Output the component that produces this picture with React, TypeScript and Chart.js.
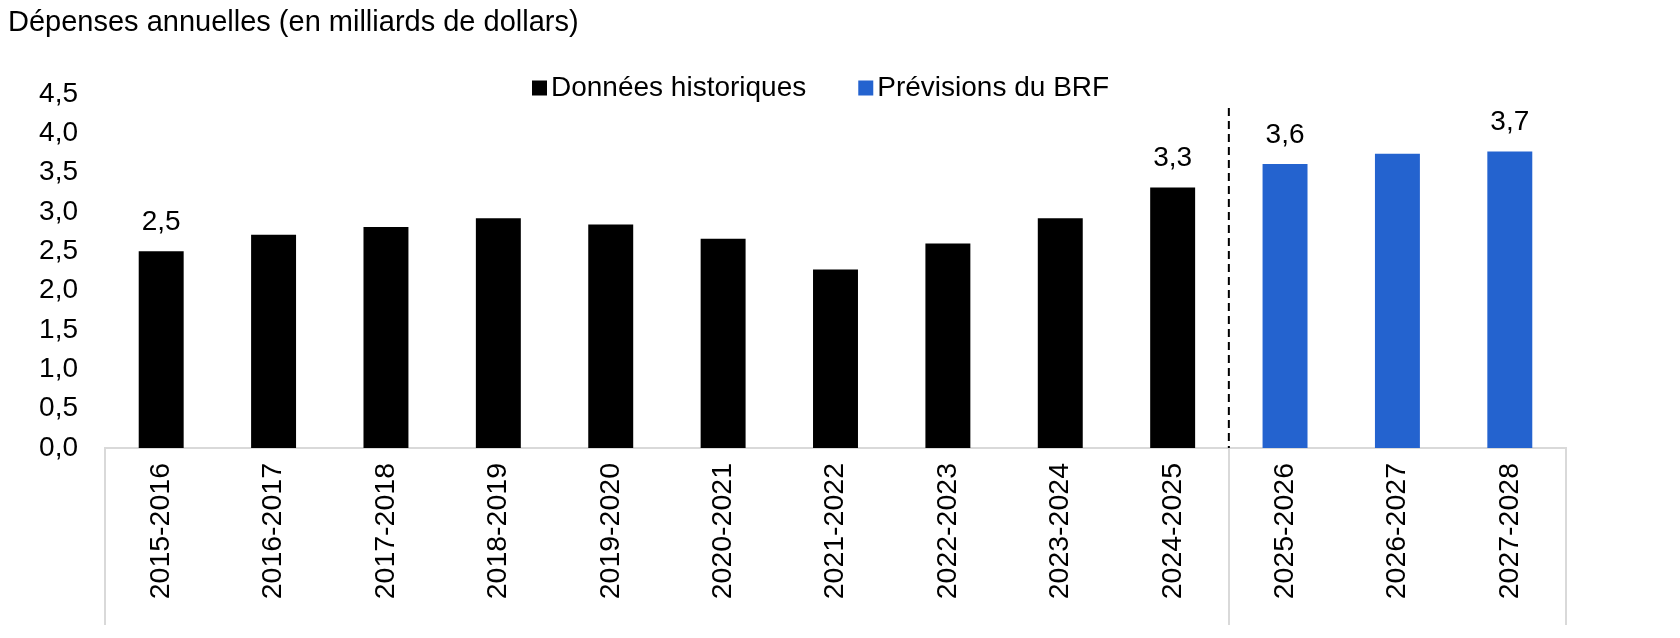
import { useEffect, useRef } from 'react';
import { Chart, registerables } from 'chart.js';

Chart.register(...registerables);

// ---- data ----
const titleText = 'Dépenses annuelles (en milliards de dollars)';
const categories = [
  '2015-2016', '2016-2017', '2017-2018', '2018-2019', '2019-2020', '2020-2021', '2021-2022',
  '2022-2023', '2023-2024', '2024-2025', '2025-2026', '2026-2027', '2027-2028',
];
const seriesNames = ['Données historiques', 'Prévisions du BRF'];
const seriesColors = ['#000000', '#2463cf'];
const historicalValues = [2.5, 2.71, 2.81, 2.92, 2.84, 2.66, 2.27, 2.6, 2.92, 3.31, null, null, null];
const forecastValues = [null, null, null, null, null, null, null, null, null, null, 3.61, 3.74, 3.77];
// value labels as printed on the chart (empty = no label)
const valueLabels = ['2,5', '', '', '', '', '', '', '', '', '3,3', '3,6', '', '3,7'];
const yMin = 0;
const yMax = 4.5;
const yStep = 0.5;

const FONT = "'Liberation Sans', Arial, Helvetica, sans-serif";
const fmt = (v: number) => v.toFixed(1).replace('.', ',');
const splitIndex = forecastValues.findIndex((v) => v !== null);

const annotationsPlugin = {
  id: 'annotations',
  afterDatasetsDraw(chart: any) {
    const { ctx, chartArea, scales } = chart;
    const x = scales.x;
    ctx.save();
    // dashed divider between history and forecast
    const xd = (x.getPixelForValue(splitIndex - 1) + x.getPixelForValue(splitIndex)) / 2;
    ctx.strokeStyle = '#000';
    ctx.lineWidth = 2;
    ctx.setLineDash([8, 5]);
    ctx.beginPath();
    ctx.moveTo(xd, chartArea.top + 14);
    ctx.lineTo(xd, chartArea.bottom);
    ctx.stroke();
    ctx.setLineDash([]);

    // value labels
    ctx.font = `28px ${FONT}`;
    ctx.fillStyle = '#000';
    ctx.textAlign = 'center';
    ctx.textBaseline = 'middle';
    chart.data.datasets.forEach((ds: any, di: number) => {
      const meta = chart.getDatasetMeta(di);
      meta.data.forEach((el: any, i: number) => {
        const v = ds.data[i];
        if (v == null || !valueLabels[i]) return;
        ctx.fillText(valueLabels[i], el.x, el.y - 29);
      });
    });

    // legend
    let lx = 532;
    const ly = 88;
    const box = 15;
    ctx.textAlign = 'left';
    chart.data.datasets.forEach((ds: any) => {
      ctx.fillStyle = ds.backgroundColor;
      ctx.fillRect(lx, ly - box / 2, box, box);
      ctx.fillStyle = '#000';
      ctx.fillText(ds.label, lx + box + 4, ly);
      lx += box + 4 + ctx.measureText(ds.label).width + 52;
    });
    ctx.restore();
  },
};

export default function App() {
  const ref = useRef<HTMLCanvasElement | null>(null);

  useEffect(() => {
    if (!ref.current) return;
    const chart = new Chart(ref.current, {
      type: 'bar',
      data: {
        labels: categories,
        datasets: [
          {
            label: seriesNames[0],
            data: historicalValues,
            backgroundColor: seriesColors[0],
            barPercentage: 0.4,
            categoryPercentage: 1,
            skipNull: true,
          },
          {
            label: seriesNames[1],
            data: forecastValues,
            backgroundColor: seriesColors[1],
            barPercentage: 0.4,
            categoryPercentage: 1,
            skipNull: true,
          },
        ],
      } as any,
      options: {
        animation: false,
        responsive: false,
        devicePixelRatio: 1,
        events: [],
        layout: { padding: { left: 8, right: 114, top: 0, bottom: 0 } },
        plugins: {
          legend: { display: false },
          tooltip: { enabled: false },
          title: {
            display: true,
            text: titleText,
            align: 'start',
            color: '#000',
            font: { family: FONT, size: 29, weight: 'normal' },
            padding: { top: 6, bottom: 53.2 },
          },
        },
        scales: {
          x: {
            offset: true,
            grid: {
              display: true,
              offset: true,
              drawOnChartArea: false,
              drawTicks: true,
              tickLength: 177,
              lineWidth: 2,
              color: (c: any) =>
                c.type !== 'tick' || c.index === 0 || c.index === splitIndex ? '#d9d9d9' : 'rgba(0,0,0,0)',
            },
            border: { display: true, color: '#d9d9d9', width: 2 },
            ticks: {
              autoSkip: false,
              maxRotation: 90,
              minRotation: 90,
              padding: -162,
              color: '#000',
              font: { family: FONT, size: 28.5 },
            },
            afterFit: (s: any) => {
              s.height = 190;
            },
          },
          y: {
            min: yMin,
            max: yMax,
            grid: { display: false, drawTicks: false },
            border: { display: false },
            ticks: {
              stepSize: yStep,
              padding: 27,
              color: '#000',
              font: { family: FONT, size: 28 },
              callback: (v: any) => fmt(Number(v)),
            },
            afterFit: (s: any) => {
              s.width = 97;
            },
          },
        },
      } as any,
      plugins: [annotationsPlugin],
    });
    return () => chart.destroy();
  }, []);

  return (
    <div style={{ position: 'absolute', left: 0, top: 0, width: 1680, height: 638 }}>
      <canvas ref={ref} width={1680} height={638} style={{ width: 1680, height: 638 }} />
    </div>
  );
}
